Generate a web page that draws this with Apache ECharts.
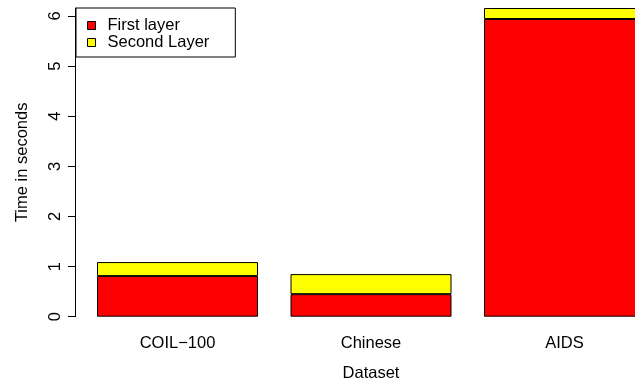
<!DOCTYPE html>
<html>
<head>
<meta charset="utf-8">
<script src="https://cdn.jsdelivr.net/npm/echarts@6/dist/echarts.min.js"></script>
<style>
  html, body { margin: 0; padding: 0; background: #fff; }
  #chart { width: 635px; height: 385px; }
</style>
</head>
<body>
<div id="chart"></div>
<script>
// Processing time per dataset, split by layer
const datasets = ['COIL\u2212100', 'Chinese', 'AIDS'];
const firstLayer = [0.81, 0.45, 5.94];
const secondLayer = [0.28, 0.40, 0.22];
const yTicks = [0, 1, 2, 3, 4, 5, 6];

const FONT = 'Liberation Sans, Arial, Helvetica, sans-serif';
const FS = 16.5;

const chart = echarts.init(document.getElementById('chart'), null, { renderer: 'canvas' });

chart.setOption({
  animation: false,
  backgroundColor: '#ffffff',
  textStyle: { fontFamily: FONT },
  grid: { left: 80.75, right: -26.25, top: 8, bottom: 68.3, outerBoundsMode: 'none', containLabel: false },
  legend: {
    orient: 'vertical',
    left: 76,
    top: 8,
    padding: [9, 26, 6, 11],
    backgroundColor: '#ffffff',
    borderColor: '#000000',
    borderWidth: 1,
    borderRadius: 0,
    itemWidth: 8,
    itemHeight: 8,
    itemGap: 0,
    icon: 'rect',
    itemStyle: { borderColor: '#000000', borderWidth: 1 },
    textStyle: { fontFamily: FONT, fontSize: FS, color: '#000', lineHeight: 14.5, padding: [0, 0, 0, 7] },
    data: ['First layer', 'Second Layer']
  },
  xAxis: {
    type: 'category',
    data: datasets,
    axisLine: { show: false },
    axisTick: { show: false },
    axisLabel: { fontSize: FS, color: '#000', margin: 18, fontFamily: FONT },
    name: 'Dataset',
    nameLocation: 'middle',
    nameGap: 48,
    nameTextStyle: { fontSize: FS, color: '#000', fontFamily: FONT }
  },
  yAxis: {
    type: 'value',
    min: 0,
    max: 6.16,
    offset: 5.75,
    splitLine: { show: false },
    axisLine: { show: true, lineStyle: { color: '#000', width: 1 } },
    axisTick: { show: true, length: 7, customValues: yTicks, lineStyle: { color: '#000' } },
    axisLabel: { fontSize: FS, color: '#000', rotate: 90, margin: 11, customValues: yTicks, fontFamily: FONT },
    name: 'Time in seconds',
    nameLocation: 'middle',
    nameGap: 44,
    nameTextStyle: { fontSize: FS, color: '#000', fontFamily: FONT }
  },
  series: [
    {
      name: 'First layer',
      type: 'bar',
      stack: 'time',
      barWidth: 161,
      data: firstLayer,
      itemStyle: { color: '#ff0000', borderColor: '#000000', borderWidth: 1 }
    },
    {
      name: 'Second Layer',
      type: 'bar',
      stack: 'time',
      barWidth: 161,
      data: secondLayer,
      itemStyle: { color: '#ffff00', borderColor: '#000000', borderWidth: 1 }
    }
  ]
});
</script>
</body>
</html>
